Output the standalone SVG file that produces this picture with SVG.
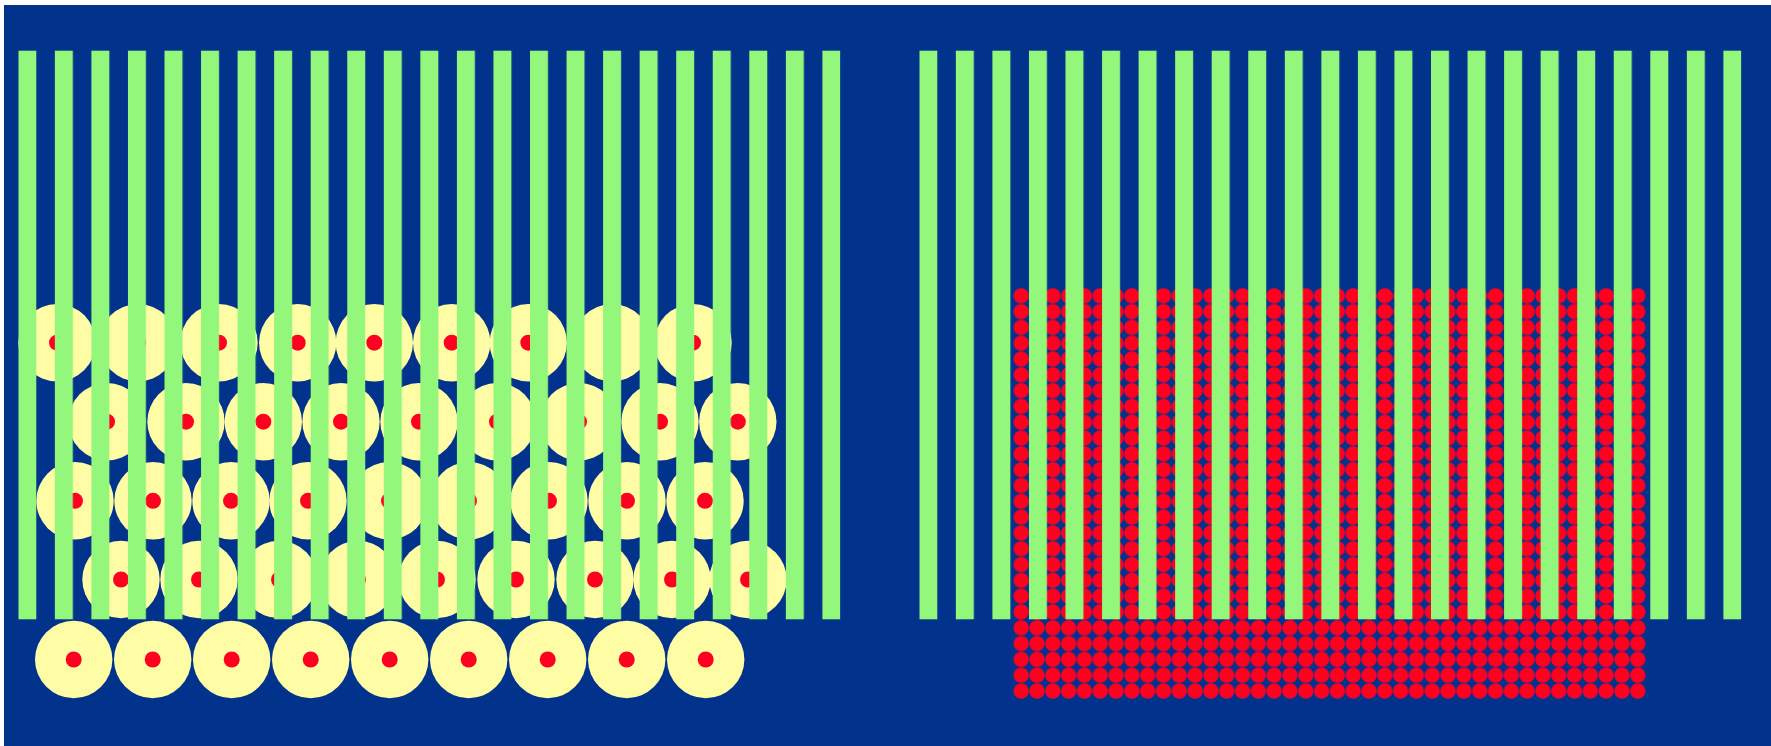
<svg xmlns="http://www.w3.org/2000/svg" xmlns:xlink="http://www.w3.org/1999/xlink" width="1771" height="746" viewBox="0 0 1771 746">
  <style>
    .bg { fill: #01338C; }
    .y { fill: #FFFCA6; }
    .r { fill: #FF0020; }
    .g { fill: #92F77B; }
  </style>
  <defs>
    <g id="cell">
      <circle class="y" cx="0" cy="0" r="38.7"/>
      <circle class="r" cx="0" cy="0" r="8"/>
    </g>
    <pattern id="stripesL" patternUnits="userSpaceOnUse" x="18.3" y="50.7" width="36.55" height="568.6">
      <rect class="g" x="0" y="0" width="18" height="568.6"/>
    </pattern>
    <pattern id="stripesR" patternUnits="userSpaceOnUse" x="919.3" y="50.7" width="36.55" height="568.6">
      <rect class="g" x="0" y="0" width="18" height="568.6"/>
    </pattern>
    <pattern id="dots" patternUnits="userSpaceOnUse" x="1013.3" y="287.9" width="15.81" height="15.81">
      <circle class="r" cx="7.905" cy="7.905" r="7.7"/>
    </pattern>
  </defs>
  <rect class="bg" x="4" y="5" width="1767" height="741"/>

  <g id="left-panel">
    <g id="left-cells">
      <use xlink:href="#cell" x="57" y="342.7"/>
      <use xlink:href="#cell" x="138" y="342.7"/>
      <use xlink:href="#cell" x="219" y="342.7"/>
      <use xlink:href="#cell" x="297.7" y="342.7"/>
      <use xlink:href="#cell" x="374.3" y="342.7"/>
      <use xlink:href="#cell" x="451.7" y="342.7"/>
      <use xlink:href="#cell" x="528.3" y="342.7"/>
      <use xlink:href="#cell" x="612" y="342.7"/>
      <use xlink:href="#cell" x="693" y="342.7"/>

      <use xlink:href="#cell" x="107" y="421.7"/>
      <use xlink:href="#cell" x="186" y="421.7"/>
      <use xlink:href="#cell" x="263.3" y="421.7"/>
      <use xlink:href="#cell" x="341" y="421.7"/>
      <use xlink:href="#cell" x="419" y="421.7"/>
      <use xlink:href="#cell" x="497" y="421.7"/>
      <use xlink:href="#cell" x="579" y="421.7"/>
      <use xlink:href="#cell" x="660" y="421.7"/>
      <use xlink:href="#cell" x="737.8" y="421.7"/>

      <use xlink:href="#cell" x="75" y="500.8"/>
      <use xlink:href="#cell" x="153" y="500.8"/>
      <use xlink:href="#cell" x="231" y="500.8"/>
      <use xlink:href="#cell" x="308" y="500.8"/>
      <use xlink:href="#cell" x="389" y="500.8"/>
      <use xlink:href="#cell" x="469" y="500.8"/>
      <use xlink:href="#cell" x="549" y="500.8"/>
      <use xlink:href="#cell" x="627" y="500.8"/>
      <use xlink:href="#cell" x="705" y="500.8"/>

      <use xlink:href="#cell" x="121" y="579.5"/>
      <use xlink:href="#cell" x="199" y="579.5"/>
      <use xlink:href="#cell" x="279" y="579.5"/>
      <use xlink:href="#cell" x="358" y="579.5"/>
      <use xlink:href="#cell" x="437" y="579.5"/>
      <use xlink:href="#cell" x="516" y="579.5"/>
      <use xlink:href="#cell" x="595" y="579.5"/>
      <use xlink:href="#cell" x="672" y="579.5"/>
      <use xlink:href="#cell" x="748" y="579.5"/>

      <use xlink:href="#cell" x="73.7" y="659.5"/>
      <use xlink:href="#cell" x="152.7" y="659.5"/>
      <use xlink:href="#cell" x="231.7" y="659.5"/>
      <use xlink:href="#cell" x="310.7" y="659.5"/>
      <use xlink:href="#cell" x="389.7" y="659.5"/>
      <use xlink:href="#cell" x="468.7" y="659.5"/>
      <use xlink:href="#cell" x="547.7" y="659.5"/>
      <use xlink:href="#cell" x="626.7" y="659.5"/>
      <use xlink:href="#cell" x="705.7" y="659.5"/>
    </g>
    <rect id="left-stripes" x="18.3" y="50.7" width="822.1" height="568.6" fill="url(#stripesL)"/>
  </g>

  <g id="right-panel">
    <rect id="right-dots" x="1013.3" y="287.9" width="632.4" height="411.06" fill="url(#dots)"/>
    <rect id="right-stripes" x="919.3" y="50.7" width="822.1" height="568.6" fill="url(#stripesR)"/>
  </g>
</svg>
